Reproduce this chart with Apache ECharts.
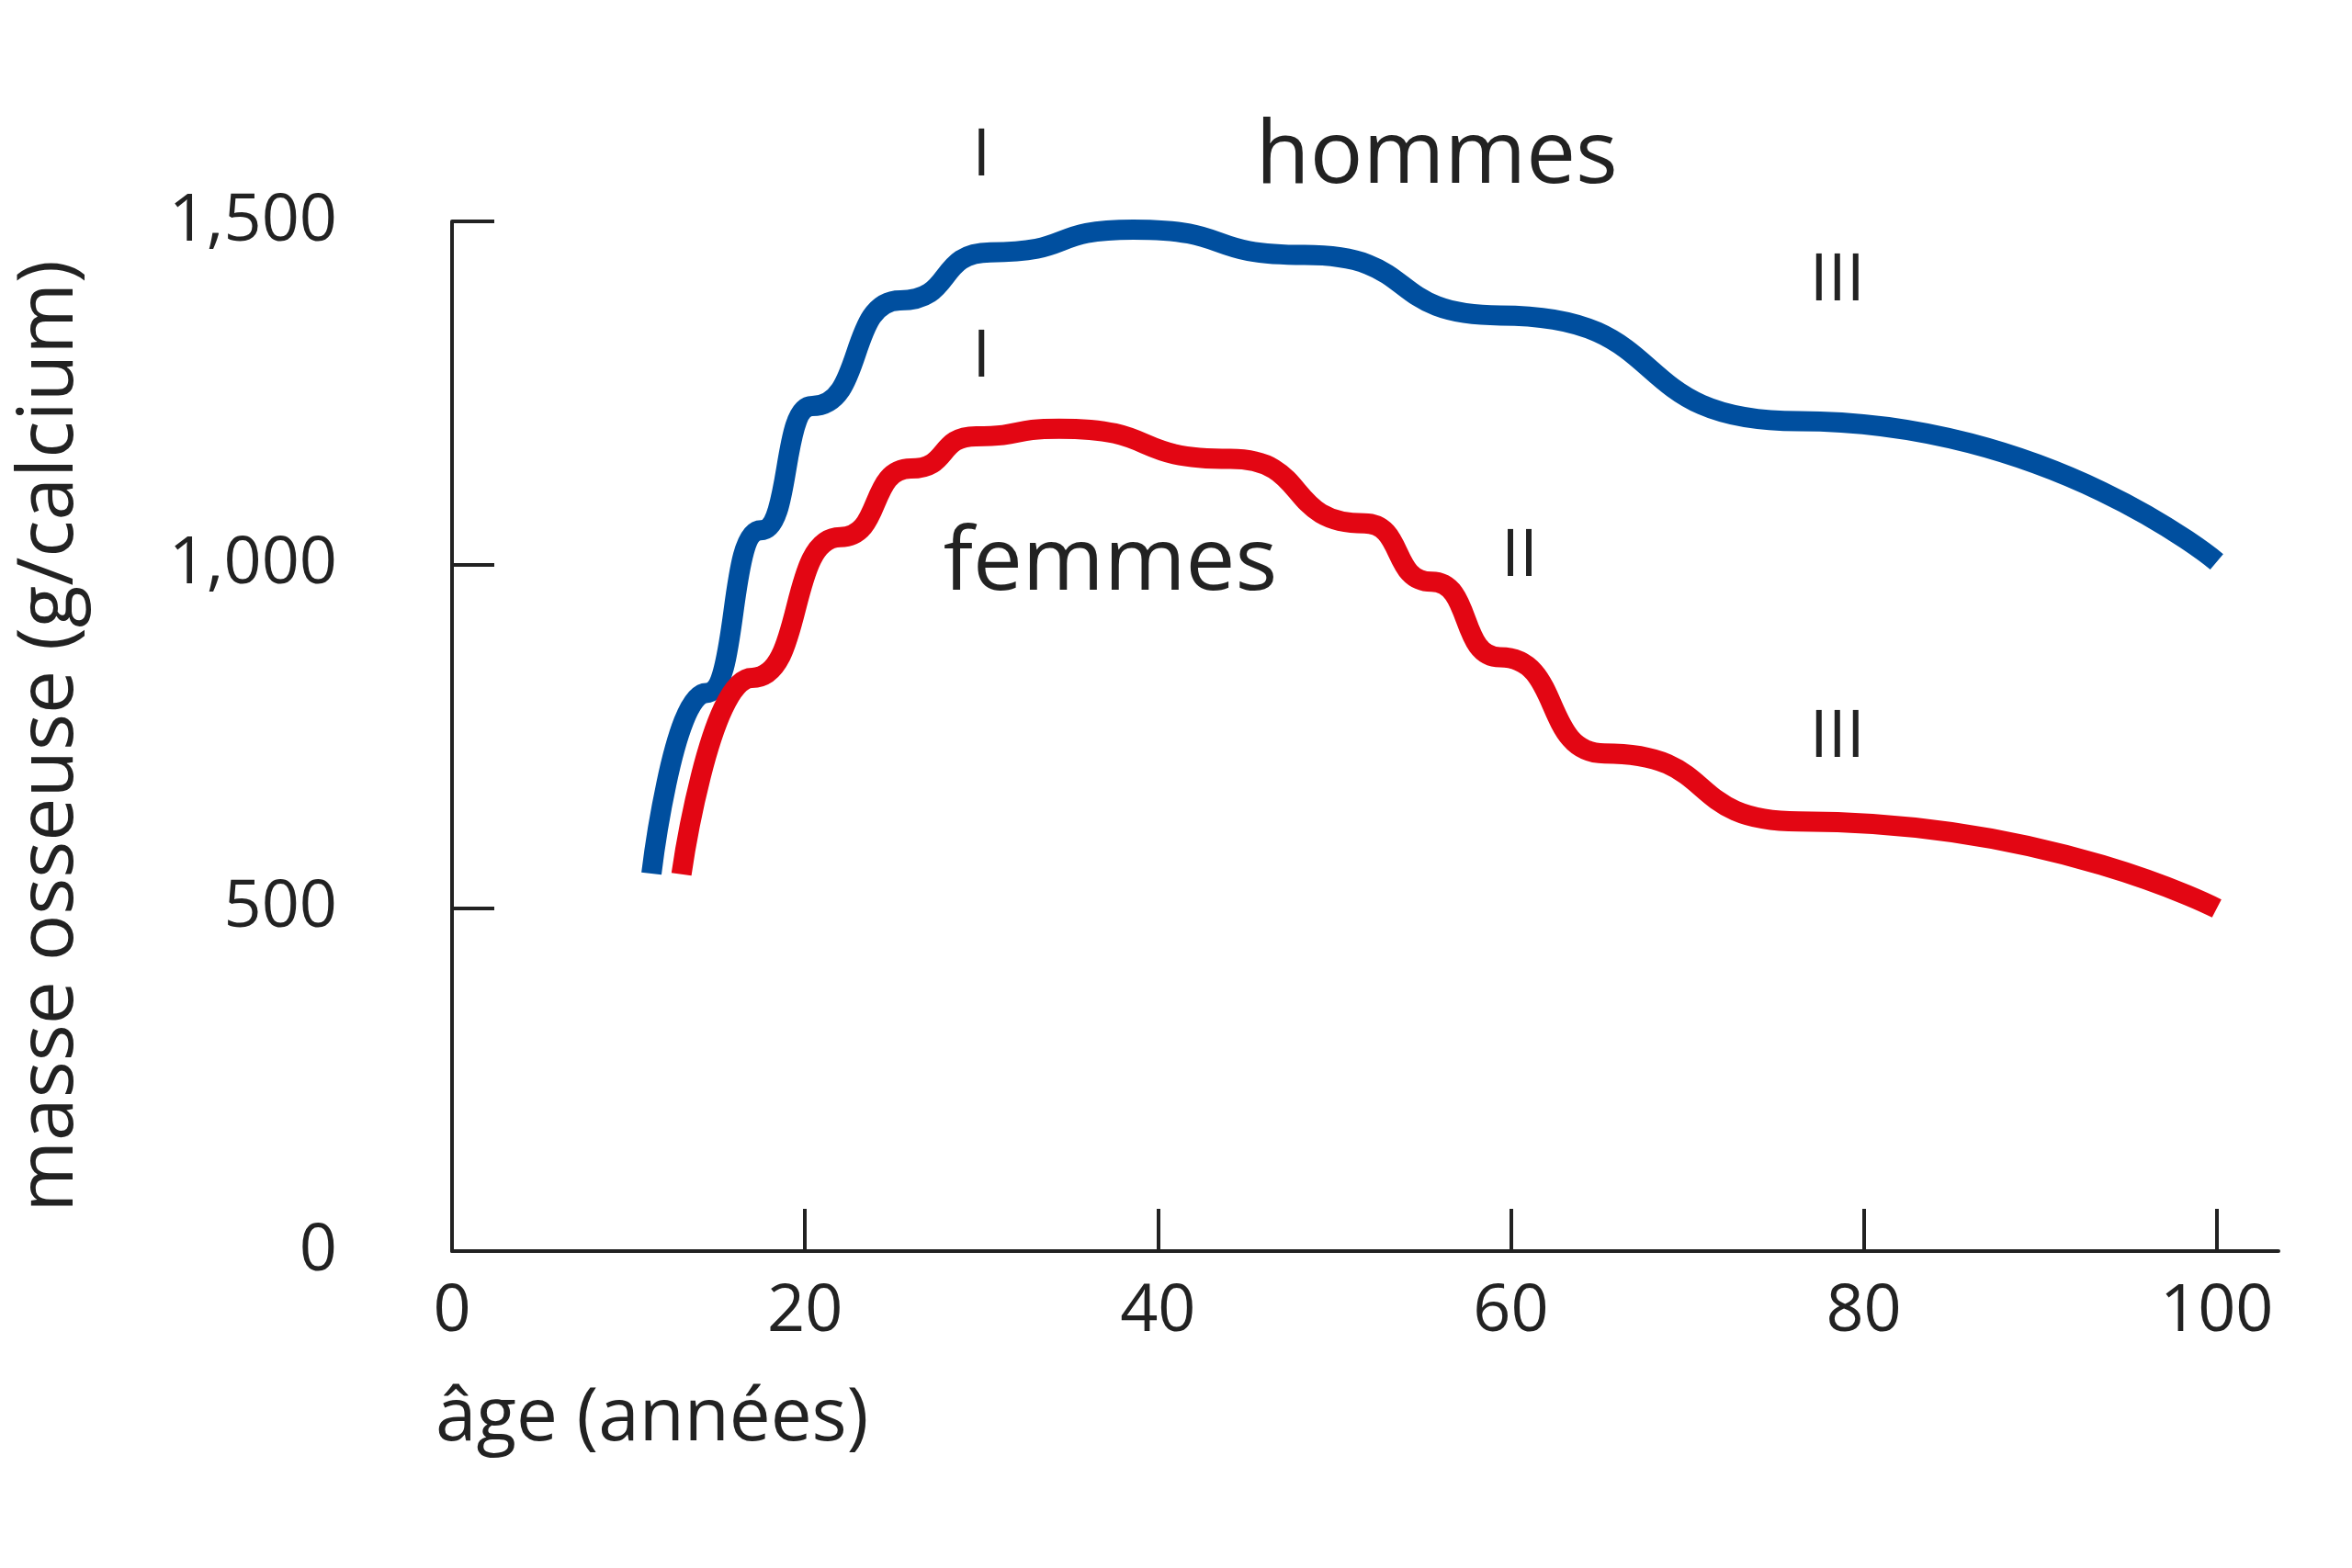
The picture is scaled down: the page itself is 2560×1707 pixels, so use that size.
<!DOCTYPE html>
<html><head><meta charset="utf-8">
<script src="https://cdn.jsdelivr.net/npm/echarts@6/dist/echarts.min.js"></script>
<style>html,body{margin:0;padding:0;background:#fff}#c{width:2560px;height:1707px}</style>
</head><body><div id="c"></div>
<script>
const menData = [[11.3,550],[14.4,813],[17.5,1050],[20.4,1231],[25.4,1385],[30.5,1455],[38.6,1488],[48.3,1451],[59.4,1363],[76.3,1209],[100,1004]];
const womenData = [[13,549],[17,835],[22,1040],[26,1140],[29.7,1187],[34.4,1198],[44.1,1154],[51.7,1060],[55.5,975],[59.4,865],[65.3,725],[76.3,626],[100,499]];
const menLabels = [{t:'I',c:[30,1594]},{t:'hommes',c:[55.8,1593]},{t:'III',c:[78.5,1413]}];
const womenLabels = [{t:'I',c:[30,1301]},{t:'femmes',c:[37.3,1000]},{t:'II',c:[60.5,1011]},{t:'III',c:[78.5,747]}];
const xTicks = [0,20,40,60,80,100];
const yTicks = [0,500,1000,1500];
const F = '"Open Sans", sans-serif', TC = '#222';
const chart = echarts.init(document.getElementById('c'));
chart.setOption({
  animation:false,
  grid:{left:492, top:241, width:1988, height:1362-241},
  xAxis:{type:'value', min:0, max:103.5, interval:20,
    axisLine:{lineStyle:{color:TC,width:4}},
    axisTick:{inside:true,length:46,customValues:xTicks,lineStyle:{color:TC,width:4}},
    axisLabel:{fontSize:72,color:TC,fontFamily:F,margin:30,customValues:xTicks},
    splitLine:{show:false}},
  yAxis:{type:'value', min:0, max:1500, interval:500,
    name:'masse osseuse (g/calcium)', nameLocation:'middle', nameGap:395, nameRotate:90,
    nameTextStyle:{fontSize:84,color:TC,fontFamily:F},
    axisLine:{show:true,lineStyle:{color:TC,width:4}},
    axisTick:{show:true,inside:true,length:46,lineStyle:{color:TC,width:4}},
    axisLabel:{fontSize:72,color:TC,fontFamily:F,margin:125,
      formatter:v=>v.toLocaleString('en-US')},
    splitLine:{show:false}},
  series:[
    {type:'line',data:menData,smooth:0.6,smoothMonotone:'x',showSymbol:false,lineStyle:{color:'#004f9f',width:22}},
    {type:'line',data:womenData,smooth:0.6,smoothMonotone:'x',showSymbol:false,lineStyle:{color:'#e30613',width:22}}
  ]
});
const g = [{type:'text',left:474,top:1505,style:{text:'âge (années)',fontSize:80,fill:TC,fontFamily:F}}];
menLabels.concat(womenLabels).forEach(a=>{
  const p = chart.convertToPixel({gridIndex:0}, a.c);
  g.push({type:'text',x:p[0],y:p[1],style:{text:a.t,fontSize:a.t.length>3?96:72,fill:TC,fontFamily:F,align:'center',verticalAlign:'middle'}});
});
chart.setOption({graphic:g});
</script></body></html>
